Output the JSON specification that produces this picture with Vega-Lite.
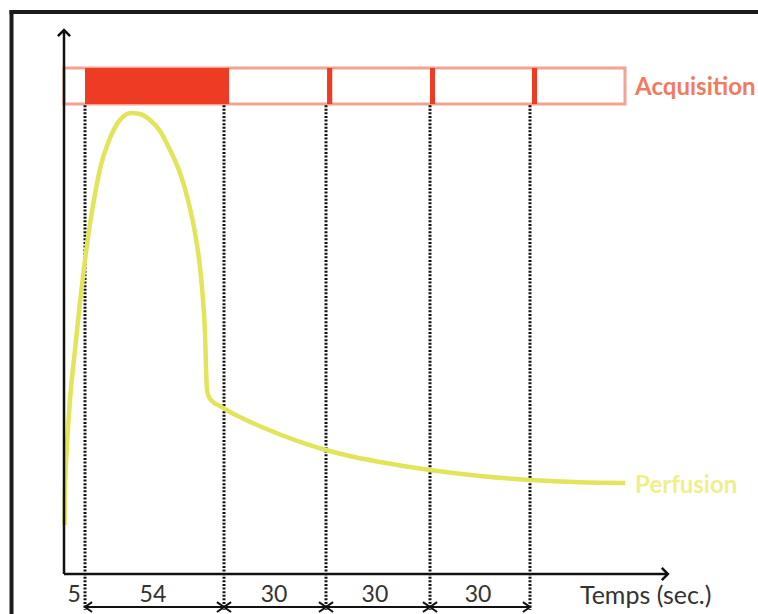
{
  "$schema": "https://vega.github.io/schema/vega-lite/v6.json",
  "width": 758,
  "height": 614,
  "autosize": {"type": "none"},
  "padding": 0,
  "background": "white",
  "config": {"view": {"stroke": null}, "font": "Lato"},
  "datasets": {
    "frame": [
      {"t": -12.5, "v": 121.9, "t2": 240, "v2": 121.9},
      {"t": -12.5, "v": 121.9, "t2": -12.5, "v2": -12}
    ],
    "axes": [
      {"axis": "y", "t": 0, "v": 0, "t2": 0, "v2": 118},
      {"axis": "x", "t": 0, "v": 0, "t2": 194, "v2": 0}
    ],
    "acq": [
      {"t": 0, "t2": 180, "v": 101.95, "v2": 109.76}
    ],
    "shots": [
      {"t": 5, "t2": 60.5, "v": 101.95, "v2": 109.76},
      {"t": 89.3, "t2": 90.8, "v": 101.95, "v2": 109.76},
      {"t": 119, "t2": 120.5, "v": 101.95, "v2": 109.76},
      {"t": 149.65, "t2": 151.3, "v": 101.95, "v2": 109.76}
    ],
    "cuts": [
      {"t": 5, "v": 101.7, "v2": -7.8},
      {"t": 59, "v": 101.7, "v2": -7.8},
      {"t": 89, "v": 101.7, "v2": -7.8},
      {"t": 119, "v": 101.7, "v2": -7.8},
      {"t": 149, "v": 101.7, "v2": -7.8}
    ],
    "spans": [
      {"t": 5, "t2": 59, "v": -7.16},
      {"t": 59, "t2": 89, "v": -7.16},
      {"t": 89, "t2": 119, "v": -7.16},
      {"t": 119, "t2": 149, "v": -7.16}
    ],
    "durations": [
      {"t": 2.4, "v": -4.6, "label": "5"},
      {"t": 31.4, "v": -4.6, "label": "54"},
      {"t": 73.7, "v": -4.6, "label": "30"},
      {"t": 103.1, "v": -4.6, "label": "30"},
      {"t": 133.4, "v": -4.6, "label": "30"}
    ],
    "perf": [
      {"t": 0.119, "v": 10.63},
      {"t": 0.238, "v": 18.22},
      {"t": 0.714, "v": 27.98},
      {"t": 1.429, "v": 37.74},
      {"t": 2.619, "v": 48.59},
      {"t": 3.81, "v": 59.0},
      {"t": 5, "v": 68.11},
      {"t": 6.943, "v": 75.92},
      {"t": 8.885, "v": 82.43},
      {"t": 11.216, "v": 88.72},
      {"t": 14.713, "v": 94.58},
      {"t": 18.598, "v": 98.48},
      {"t": 22.871, "v": 100},
      {"t": 26.368, "v": 99.78},
      {"t": 30.253, "v": 98.48},
      {"t": 34.138, "v": 96.1},
      {"t": 38.023, "v": 91.97},
      {"t": 41.908, "v": 86.98},
      {"t": 45.016, "v": 81.13},
      {"t": 47.735, "v": 73.97},
      {"t": 49.677, "v": 66.59},
      {"t": 50.843, "v": 59.44},
      {"t": 51.62, "v": 52.28},
      {"t": 52.009, "v": 44.9},
      {"t": 52.397, "v": 39.91},
      {"t": 53.174, "v": 38.39},
      {"t": 54.34, "v": 37.53},
      {"t": 57.448, "v": 36.44},
      {"t": 60.765, "v": 35.14},
      {"t": 65.176, "v": 33.51},
      {"t": 69.588, "v": 32.04},
      {"t": 75.471, "v": 30.26},
      {"t": 82.235, "v": 28.46},
      {"t": 89, "v": 26.9},
      {"t": 96.788, "v": 25.42},
      {"t": 104.577, "v": 24.3},
      {"t": 119, "v": 22.56},
      {"t": 134, "v": 21.26},
      {"t": 149, "v": 20.39},
      {"t": 165.316, "v": 19.89},
      {"t": 180, "v": 19.74}
    ]
  },
  "encoding": {
    "x": {
      "field": "t",
      "type": "quantitative",
      "axis": null,
      "scale": {
        "domain": [0, 5, 59, 89, 119, 149, 180],
        "range": [64, 85, 224, 326, 430, 530, 625],
        "nice": false,
        "zero": false
      }
    },
    "y": {
      "field": "v",
      "type": "quantitative",
      "axis": null,
      "scale": {"domain": [0, 100], "range": [574, 113], "nice": false, "zero": false}
    }
  },
  "layer": [
    {
      "data": {"name": "frame"},
      "mark": {"type": "rule", "color": "#1b1b1b", "strokeWidth": 4, "strokeCap": "square"},
      "encoding": {"x2": {"field": "t2"}, "y2": {"field": "v2"}}
    },
    {
      "data": {"name": "acq"},
      "mark": {"type": "rect", "fill": null, "stroke": "#f4a292", "strokeWidth": 3},
      "encoding": {"x2": {"field": "t2"}, "y2": {"field": "v2"}}
    },
    {
      "data": {"name": "shots"},
      "mark": {"type": "rect", "color": "#ee3b24"},
      "encoding": {"x2": {"field": "t2"}, "y2": {"field": "v2"}}
    },
    {
      "data": {"name": "cuts"},
      "mark": {"type": "rule", "color": "#111111", "strokeWidth": 3, "strokeDash": [2, 1.6]},
      "encoding": {"y2": {"field": "v2"}}
    },
    {
      "data": {"name": "perf"},
      "mark": {"type": "line", "color": "#e2e45a", "strokeWidth": 4.5, "interpolate": "monotone"}
    },
    {
      "data": {"name": "axes"},
      "mark": {"type": "rule", "color": "#111111", "strokeWidth": 2.5},
      "encoding": {"x2": {"field": "t2"}, "y2": {"field": "v2"}}
    },
    {
      "data": {"name": "axes"},
      "transform": [{"filter": "datum.axis === 'y'"}],
      "mark": {"type": "point", "shape": "M-1,1L0,0L1,1", "filled": false, "stroke": "#111111", "strokeWidth": 2.5, "size": 150, "opacity": 1},
      "encoding": {"x": {"field": "t2"}, "y": {"field": "v2"}}
    },
    {
      "data": {"name": "axes"},
      "transform": [{"filter": "datum.axis === 'x'"}],
      "mark": {"type": "point", "shape": "M-1,-1L0,0L-1,1", "filled": false, "stroke": "#111111", "strokeWidth": 2.5, "size": 150, "opacity": 1},
      "encoding": {"x": {"field": "t2"}, "y": {"field": "v2"}}
    },
    {
      "data": {"name": "spans"},
      "mark": {"type": "rule", "color": "#111111", "strokeWidth": 2},
      "encoding": {"x2": {"field": "t2"}}
    },
    {
      "data": {"name": "spans"},
      "mark": {"type": "point", "shape": "M1,-0.7L0,0L1,0.7", "filled": false, "stroke": "#111111", "strokeWidth": 2, "size": 200, "opacity": 1}
    },
    {
      "data": {"name": "spans"},
      "mark": {"type": "point", "shape": "M-1,-0.7L0,0L-1,0.7", "filled": false, "stroke": "#111111", "strokeWidth": 2, "size": 200, "opacity": 1},
      "encoding": {"x": {"field": "t2"}}
    },
    {
      "data": {"name": "durations"},
      "mark": {"type": "text", "fontSize": 23, "color": "#333333", "align": "center", "baseline": "middle"},
      "encoding": {"text": {"field": "label"}}
    },
    {
      "data": {"values": [{"t": 165.3, "v": -4.8, "label": "Temps (sec.)"}]},
      "mark": {"type": "text", "fontSize": 25, "color": "#333333", "align": "left", "baseline": "middle"},
      "encoding": {"text": {"field": "label"}}
    },
    {
      "data": {"values": [{"t": 183.3, "v": 105.4, "label": "Acquisition"}]},
      "mark": {"type": "text", "fontSize": 24, "fontWeight": "bold", "color": "#f27a5e", "align": "left", "baseline": "middle"},
      "encoding": {"text": {"field": "label"}}
    },
    {
      "data": {"values": [{"t": 183.3, "v": 19.1, "label": "Perfusion"}]},
      "mark": {"type": "text", "fontSize": 24, "fontWeight": "bold", "color": "#f0ef88", "align": "left", "baseline": "middle"},
      "encoding": {"text": {"field": "label"}}
    }
  ]
}
